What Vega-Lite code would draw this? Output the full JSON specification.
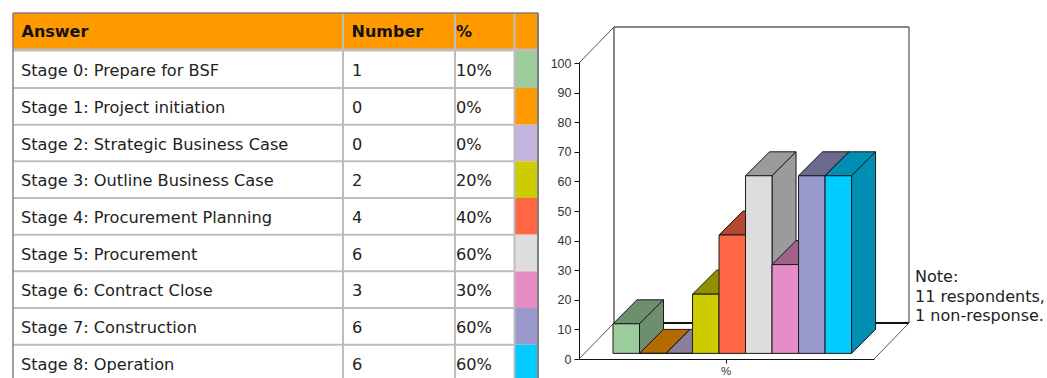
{
  "$schema": "https://vega.github.io/schema/vega-lite/v6.json",
  "width": 1047,
  "height": 378,
  "padding": 0,
  "autosize": {"type": "none"},
  "background": "white",
  "config": {
    "view": {"stroke": null},
    "axis": {"labelColor": "#333333", "labelFont": "Liberation Sans", "labelFontSize": 12.5, "domainColor": "#111111", "tickColor": "#111111", "grid": false, "labelOverlap": false}
  },
  "datasets": {
    "stages": [
      {"order": 0, "answer": "Stage 0: Prepare for BSF", "number": 1, "pct": 10},
      {"order": 1, "answer": "Stage 1: Project initiation", "number": 0, "pct": 0},
      {"order": 2, "answer": "Stage 2: Strategic Business Case", "number": 0, "pct": 0},
      {"order": 3, "answer": "Stage 3: Outline Business Case", "number": 2, "pct": 20},
      {"order": 4, "answer": "Stage 4: Procurement Planning", "number": 4, "pct": 40},
      {"order": 5, "answer": "Stage 5: Procurement", "number": 6, "pct": 60},
      {"order": 6, "answer": "Stage 6: Contract Close", "number": 3, "pct": 30},
      {"order": 7, "answer": "Stage 7: Construction", "number": 6, "pct": 60},
      {"order": 8, "answer": "Stage 8: Operation", "number": 6, "pct": 60}
    ],
    "single": [{"note": "Note:\n11 respondents,\n1 non-response."}],
    "headers": [
      {"column": 0, "label": "Answer"},
      {"column": 1, "label": "Number"},
      {"column": 2, "label": "%"}
    ]
  },
  "layer": [
    {
      "description": "Results table: columns and rows are indices on piecewise scales",
      "layer": [
        {
          "data": {"name": "single"},
          "mark": {"type": "rect", "fill": "#FF9900"},
          "encoding": {
            "x": {"datum": 0, "type": "quantitative", "axis": null, "scale": {"domain": [0, 1, 2, 3, 4], "range": [13, 343, 455, 514.5, 538], "nice": false, "zero": false}},
            "x2": {"datum": 4},
            "y": {"datum": 0, "type": "quantitative", "axis": null, "scale": {"domain": [0, 1, 2, 3, 4, 5, 6, 7, 8, 9, 10], "range": [13, 50, 88, 124.67, 161.33, 198, 234.67, 271.33, 308, 344.67, 381.33], "nice": false, "zero": false}},
            "y2": {"datum": 1}
          }
        },
        {
          "data": {"name": "stages"},
          "transform": [
            {"calculate": "datum.order + 1", "as": "rowTop"},
            {"calculate": "datum.order + 2", "as": "rowBottom"}
          ],
          "layer": [
            {
              "mark": {"type": "rect"},
              "encoding": {
                "x": {"datum": 3, "type": "quantitative", "axis": null},
                "x2": {"datum": 4},
                "y": {"field": "rowTop", "type": "quantitative", "axis": null},
                "y2": {"field": "rowBottom"},
                "fill": {
                  "field": "answer",
                  "type": "nominal",
                  "legend": null,
                  "sort": null,
                  "scale": {
                    "domain": ["Stage 0: Prepare for BSF", "Stage 1: Project initiation", "Stage 2: Strategic Business Case", "Stage 3: Outline Business Case", "Stage 4: Procurement Planning", "Stage 5: Procurement", "Stage 6: Contract Close", "Stage 7: Construction", "Stage 8: Operation"],
                    "range": ["#9CCB9C", "#FF9900", "#C4B5DE", "#CCCC00", "#FF6644", "#DDDDDD", "#E68CC6", "#9999CC", "#00CCFF"]
                  }
                }
              }
            },
            {
              "mark": {"type": "rule", "color": "#BDBDBD", "strokeWidth": 2},
              "encoding": {
                "x": {"datum": 0, "type": "quantitative", "axis": null},
                "x2": {"datum": 3},
                "y": {"field": "rowBottom", "type": "quantitative", "axis": null}
              }
            }
          ]
        },
        {
          "data": {"name": "single"},
          "layer": [
            {
              "mark": {"type": "rule", "color": "#BDBDBD", "strokeWidth": 3},
              "encoding": {
                "x": {"datum": 0, "type": "quantitative", "axis": null},
                "x2": {"datum": 4},
                "y": {"datum": 1, "type": "quantitative", "axis": null}
              }
            },
            {
              "mark": {"type": "rule", "color": "#BDBDBD", "strokeWidth": 2},
              "encoding": {"x": {"datum": 1, "type": "quantitative", "axis": null}, "y": {"datum": 0, "type": "quantitative", "axis": null}, "y2": {"datum": 10}}
            },
            {
              "mark": {"type": "rule", "color": "#BDBDBD", "strokeWidth": 2},
              "encoding": {"x": {"datum": 2, "type": "quantitative", "axis": null}, "y": {"datum": 0, "type": "quantitative", "axis": null}, "y2": {"datum": 10}}
            },
            {
              "mark": {"type": "rule", "color": "#BDBDBD", "strokeWidth": 2},
              "encoding": {"x": {"datum": 3, "type": "quantitative", "axis": null}, "y": {"datum": 0, "type": "quantitative", "axis": null}, "y2": {"datum": 10}}
            },
            {
              "mark": {"type": "rule", "color": "#808080", "strokeWidth": 1.5},
              "encoding": {"x": {"datum": 0, "type": "quantitative", "axis": null}, "y": {"datum": 0, "type": "quantitative", "axis": null}, "y2": {"datum": 10}}
            },
            {
              "mark": {"type": "rule", "color": "#808080", "strokeWidth": 2},
              "encoding": {"x": {"datum": 4, "type": "quantitative", "axis": null}, "y": {"datum": 0, "type": "quantitative", "axis": null}, "y2": {"datum": 10}}
            },
            {
              "mark": {"type": "rule", "color": "#808080", "strokeWidth": 1.5},
              "encoding": {"x": {"datum": 0, "type": "quantitative", "axis": null}, "x2": {"datum": 4}, "y": {"datum": 0, "type": "quantitative", "axis": null}}
            }
          ]
        },
        {
          "data": {"name": "stages"},
          "transform": [
            {"calculate": "datum.order + 1.5", "as": "rowMid"},
            {"calculate": "datum.pct + '%'", "as": "pctLabel"}
          ],
          "layer": [
            {
              "mark": {"type": "text", "align": "left", "baseline": "middle", "dx": 8, "dy": 1.5, "font": "DejaVu Sans", "fontSize": 16.2, "color": "#222222"},
              "encoding": {"x": {"datum": 0, "type": "quantitative", "axis": null}, "y": {"field": "rowMid", "type": "quantitative", "axis": null}, "text": {"field": "answer"}}
            },
            {
              "mark": {"type": "text", "align": "left", "baseline": "middle", "dx": 9, "dy": 1.5, "font": "DejaVu Sans", "fontSize": 16.2, "color": "#222222"},
              "encoding": {"x": {"datum": 1, "type": "quantitative", "axis": null}, "y": {"field": "rowMid", "type": "quantitative", "axis": null}, "text": {"field": "number"}}
            },
            {
              "mark": {"type": "text", "align": "left", "baseline": "middle", "dx": 1, "dy": 1.5, "font": "DejaVu Sans", "fontSize": 16.2, "color": "#222222"},
              "encoding": {"x": {"datum": 2, "type": "quantitative", "axis": null}, "y": {"field": "rowMid", "type": "quantitative", "axis": null}, "text": {"field": "pctLabel"}}
            }
          ]
        },
        {
          "data": {"name": "headers"},
          "transform": [{"filter": "datum.column < 2"}],
          "mark": {"type": "text", "align": "left", "baseline": "middle", "dx": 8.5, "font": "DejaVu Sans", "fontSize": 16, "fontWeight": "bold", "color": "#111111"},
          "encoding": {"x": {"field": "column", "type": "quantitative", "axis": null}, "y": {"datum": 0.5, "type": "quantitative", "axis": null}, "text": {"field": "label"}}
        },
        {
          "data": {"name": "headers"},
          "transform": [{"filter": "datum.column === 2"}],
          "mark": {"type": "text", "align": "left", "baseline": "middle", "dx": 1, "font": "DejaVu Sans", "fontSize": 16, "fontWeight": "bold", "color": "#111111"},
          "encoding": {"x": {"field": "column", "type": "quantitative", "axis": null}, "y": {"datum": 0.5, "type": "quantitative", "axis": null}, "text": {"field": "label"}}
        }
      ]
    },
    {
      "description": "Pseudo-3D column chart of the percentage per stage",
      "layer": [
        {
          "description": "Back wall and floor, behind the columns",
          "data": {"name": "single"},
          "layer": [
            {
              "mark": {"type": "rule", "color": "#111111", "strokeWidth": 1},
              "encoding": {"x": {"datum": 1.32, "type": "quantitative"}, "x2": {"datum": 12.45}, "y": {"datum": 112.16, "type": "quantitative"}}
            },
            {
              "mark": {"type": "rule", "color": "#111111", "strokeWidth": 1},
              "encoding": {"x": {"datum": 1.32, "type": "quantitative"}, "y": {"datum": 12.16, "type": "quantitative"}, "y2": {"datum": 112.16}}
            },
            {
              "mark": {"type": "rule", "color": "#333333", "strokeWidth": 1},
              "encoding": {"x": {"datum": 12.45, "type": "quantitative"}, "y": {"datum": 12.16, "type": "quantitative"}, "y2": {"datum": 112.16}}
            },
            {
              "mark": {"type": "rule", "color": "#111111", "strokeWidth": 2},
              "encoding": {"x": {"datum": 1.32, "type": "quantitative"}, "x2": {"datum": 12.45}, "y": {"datum": 12.16, "type": "quantitative"}}
            },
            {
              "mark": {"type": "rule", "color": "#555555", "strokeWidth": 1},
              "encoding": {"x": {"datum": 0, "type": "quantitative"}, "x2": {"datum": 1.32}, "y": {"datum": 100, "type": "quantitative"}, "y2": {"datum": 112.16}}
            },
            {
              "mark": {"type": "rule", "color": "#555555", "strokeWidth": 1},
              "encoding": {"x": {"datum": 0, "type": "quantitative"}, "x2": {"datum": 1.32}, "y": {"datum": 0, "type": "quantitative"}, "y2": {"datum": 12.16}}
            },
            {
              "mark": {"type": "rule", "color": "#555555", "strokeWidth": 1},
              "encoding": {"x": {"datum": 11.13, "type": "quantitative"}, "x2": {"datum": 12.45}, "y": {"datum": 0, "type": "quantitative"}, "y2": {"datum": 12.16}}
            },
            {
              "mark": {"type": "text", "align": "left", "baseline": "top", "lineBreak": "\n", "lineHeight": 19.5, "font": "DejaVu Sans", "fontSize": 16, "color": "#222222"},
              "encoding": {
                "x": {"datum": 12.68, "type": "quantitative"},
                "y": {"datum": 30.4, "type": "quantitative"},
                "text": {"field": "note"}
              }
            }
          ]
        },
        {
          "description": "Top, side and front faces of each column, painted left to right",
          "data": {"name": "stages"},
          "transform": [
            {"calculate": "['top', 'side', 'front']", "as": "face"},
            {"flatten": ["face"]},
            {"calculate": "[0, 1, 2, 3]", "as": "k"},
            {"flatten": ["k"]},
            {"calculate": "datum.order + 1.283", "as": "L"},
            {"calculate": "datum.L + 1", "as": "R"},
            {"calculate": "datum.L + 0.906", "as": "Ld"},
            {"calculate": "datum.R + 0.906", "as": "Rd"},
            {"calculate": "datum.pct + 1.9", "as": "v"},
            {"calculate": "datum.v + 8.1", "as": "vd"},
            {"calculate": "datum.face === 'top' ? [datum.L, datum.Ld, datum.R, datum.Rd][datum.k] : datum.face === 'side' ? [datum.R, datum.R, datum.Rd, datum.Rd][datum.k] : [datum.L, datum.L, datum.R, datum.R][datum.k]", "as": "px"},
            {"calculate": "datum.face === 'top' ? [datum.v, datum.vd, datum.vd, datum.vd][datum.k] : datum.face === 'side' ? [datum.v, datum.v, datum.vd, datum.vd][datum.k] : datum.v", "as": "py"},
            {"calculate": "datum.face === 'top' ? [datum.v, datum.v, datum.v, datum.vd][datum.k] : datum.face === 'side' ? [1.9, 1.9, 10, 10][datum.k] : 1.9", "as": "py2"},
            {"calculate": "datum.order + (datum.face === 'front' ? ':front' : ':dark')", "as": "shade"},
            {"calculate": "datum.order + ':' + datum.face", "as": "faceKey"}
          ],
          "mark": {"type": "area", "stroke": "#1a1a1a", "strokeWidth": 1, "interpolate": "linear"},
          "encoding": {
            "x": {"field": "px", "type": "quantitative", "scale": {"domain": [0, 11.13], "range": [579, 874], "nice": false, "zero": false}, "axis": {"orient": "bottom", "offset": -19, "values": [5.535], "labelExpr": "'%'", "title": null, "tickSize": 4, "labelPadding": 2, "labelFontSize": 11.5, "labelOverlap": false}},
            "y": {"field": "py", "type": "quantitative", "stack": null, "scale": {"domain": [0, 100], "range": [359, 63], "nice": false, "zero": false}, "axis": {"orient": "left", "offset": -579, "values": [0, 10, 20, 30, 40, 50, 60, 70, 80, 90, 100], "tickCount": 11, "title": null, "tickSize": 5, "labelPadding": 3, "labelOverlap": false, "labelBound": false, "labelFlush": false}},
            "y2": {"field": "py2"},
            "detail": {"field": "faceKey"},
            "fill": {
              "field": "shade",
              "type": "nominal",
              "legend": null,
              "scale": {
                "domain": ["0:front", "0:dark", "1:front", "1:dark", "2:front", "2:dark", "3:front", "3:dark", "4:front", "4:dark", "5:front", "5:dark", "6:front", "6:dark", "7:front", "7:dark", "8:front", "8:dark"],
                "range": ["#9CCB9C", "#6D8F6D", "#FF9900", "#B36B00", "#C4B5DE", "#897F9B", "#CCCC00", "#8F8F00", "#FF6644", "#B34730", "#DDDDDD", "#9B9B9B", "#E68CC6", "#A1628A", "#9999CC", "#6B6B8F", "#00CCFF", "#008FB3"]
              }
            }
          }
        }
      ]
    }
  ],
  "resolve": {
    "scale": {"x": "independent", "y": "independent", "fill": "independent"},
    "axis": {"x": "independent", "y": "independent"}
  }
}
